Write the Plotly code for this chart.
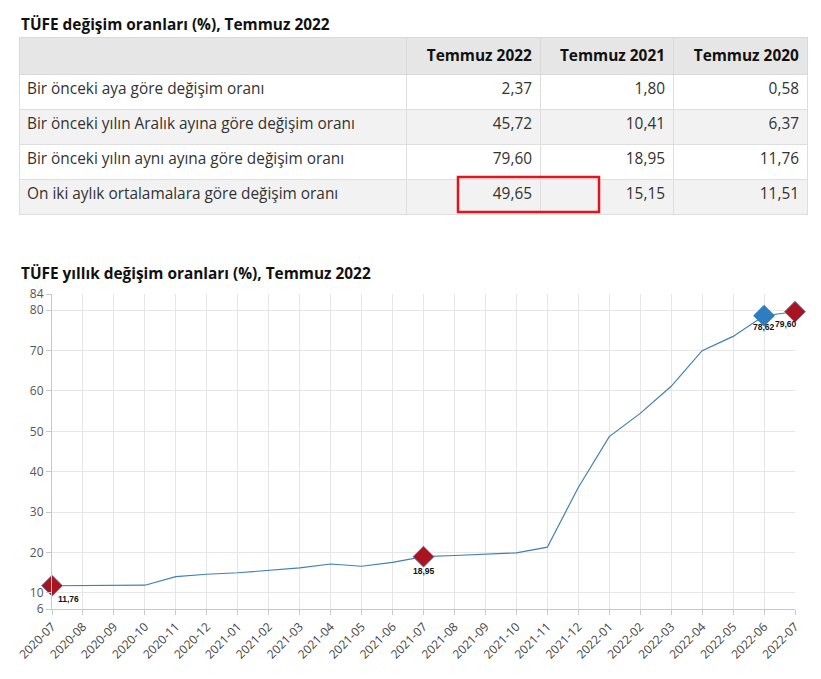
import plotly.graph_objects as go

# ---------------- data ----------------
table_title = "TÜFE değişim oranları (%), Temmuz 2022"
table_cols = ["", "Temmuz 2022", "Temmuz 2021", "Temmuz 2020"]
row_labels = [
    "Bir önceki aya göre değişim oranı",
    "Bir önceki yılın Aralık ayına göre değişim oranı",
    "Bir önceki yılın aynı ayına göre değişim oranı",
    "On iki aylık ortalamalara göre değişim oranı",
]
col_2022 = ["2,37", "45,72", "79,60", "49,65"]
col_2021 = ["1,80", "10,41", "18,95", "15,15"]
col_2020 = ["0,58", "6,37", "11,76", "11,51"]

chart_title = "TÜFE yıllık değişim oranları (%), Temmuz 2022"
months = ["2020-07", "2020-08", "2020-09", "2020-10", "2020-11", "2020-12",
          "2021-01", "2021-02", "2021-03", "2021-04", "2021-05", "2021-06",
          "2021-07", "2021-08", "2021-09", "2021-10", "2021-11", "2021-12",
          "2022-01", "2022-02", "2022-03", "2022-04", "2022-05", "2022-06",
          "2022-07"]
annual = [11.76, 11.77, 11.75, 11.89, 14.03, 14.60,
          14.97, 15.61, 16.19, 17.14, 16.59, 17.53,
          18.95, 19.25, 19.58, 19.89, 21.31, 36.08,
          48.69, 54.44, 61.14, 69.97, 73.50, 78.62,
          79.60]
red_points = ["2020-07", "2021-07", "2022-07"]
blue_points = ["2022-06"]
y_ticks = [6, 10, 20, 30, 40, 50, 60, 70, 80, 84]

# ---------------- layout helpers ----------------
W, H = 821, 679
def px_x(x): return x / W
def px_y(y): return 1 - y / H

fig = go.Figure()

n = len(row_labels)
fills = [["#ffffff" if i % 2 == 0 else "#f2f2f2" for i in range(n)]] * 4
fig.add_trace(go.Table(
    domain=dict(x=[px_x(19), px_x(807)], y=[px_y(240), px_y(37)]),
    columnwidth=[387, 134, 133, 134],
    header=dict(
        values=["<b>%s</b>" % c for c in table_cols],
        fill_color="#e6e6e6",
        line_color="#d9d9d9",
        align=["left", "right", "right", "right"],
        font=dict(family="Open Sans", size=15.4, color="#111111"),
        height=35,
    ),
    cells=dict(
        values=[row_labels, col_2022, col_2021, col_2020],
        fill_color=fills,
        line_color="#dedede",
        align=["left", "right", "right", "right"],
        font=dict(family="Open Sans", size=15.4, color="#333333"),
        height=35,
    ),
))

# line chart
fig.add_trace(go.Scatter(
    x=months, y=annual, mode="lines",
    line=dict(color="#4080b2", width=1.2),
    hoverinfo="skip", showlegend=False,
))
ry = [annual[months.index(m)] for m in red_points]
fig.add_trace(go.Scatter(
    x=red_points, y=ry, mode="markers",
    marker=dict(symbol="diamond", size=16, color="#a8141f",
                line=dict(color="#6a6aa0", width=1)),
    cliponaxis=False, showlegend=False,
))
by = [annual[months.index(m)] for m in blue_points]
fig.add_trace(go.Scatter(
    x=blue_points, y=by, mode="markers",
    marker=dict(symbol="diamond", size=16, color="#2e7ebf",
                line=dict(color="#2e7ebf", width=1)),
    cliponaxis=False, showlegend=False,
))

label_offsets = {"2020-07": (16, -13), "2021-07": (0, -14),
                 "2022-06": (0, -11), "2022-07": (-9, -12)}
annotations = []
for m, (dx, dy) in label_offsets.items():
    v = annual[months.index(m)]
    annotations.append(dict(
        x=m, y=v, xref="x", yref="y", text="<b>%s</b>" % f"{v:.2f}".replace(".", ","),
        showarrow=False, xshift=dx, yshift=dy,
        font=dict(family="Arial", size=8.5, color="#111111"),
    ))

annotations.append(dict(x=px_x(19), y=px_y(25), xref="paper", yref="paper",
                        xanchor="left", yanchor="middle", showarrow=False,
                        text="<b>%s</b>" % table_title,
                        font=dict(family="Open Sans", size=15.4, color="#111111")))
annotations.append(dict(x=px_x(19), y=px_y(273), xref="paper", yref="paper",
                        xanchor="left", yanchor="middle", showarrow=False,
                        text="<b>%s</b>" % chart_title,
                        font=dict(family="Open Sans", size=15.4, color="#111111")))

fig.update_layout(
    width=W, height=H,
    margin=dict(l=0, r=0, t=0, b=0, autoexpand=False),
    paper_bgcolor="white", plot_bgcolor="white",
    showlegend=False,
    annotations=annotations,
    shapes=[dict(type="rect", xref="paper", yref="paper",
                 x0=px_x(458), x1=px_x(599), y0=px_y(212), y1=px_y(177),
                 line=dict(color="#e0141e", width=2.5))],
    xaxis=dict(
        domain=[px_x(52), px_x(795)], automargin=False,
        type="category", range=[0, len(months) - 1],
        tickmode="array", tickvals=months, ticktext=months,
        tickangle=-45, showgrid=True, gridcolor="#e6e6e6",
        ticks="outside", ticklen=5, tickcolor="#c8c8c8",
        showline=True, linecolor="#c8c8c8",
        tickfont=dict(family="Open Sans", size=12, color="#444444"),
        zeroline=False,
    ),
    yaxis=dict(
        domain=[px_y(609), px_y(294)], automargin=False,
        range=[6, 84], tickmode="array", tickvals=y_ticks,
        showgrid=True, gridcolor="#e6e6e6",
        ticks="outside", ticklen=5, tickcolor="#c8c8c8",
        showline=True, linecolor="#c8c8c8",
        tickfont=dict(family="Open Sans", size=12, color="#555555"),
        zeroline=False,
    ),
)

fig.write_html("out.html")
